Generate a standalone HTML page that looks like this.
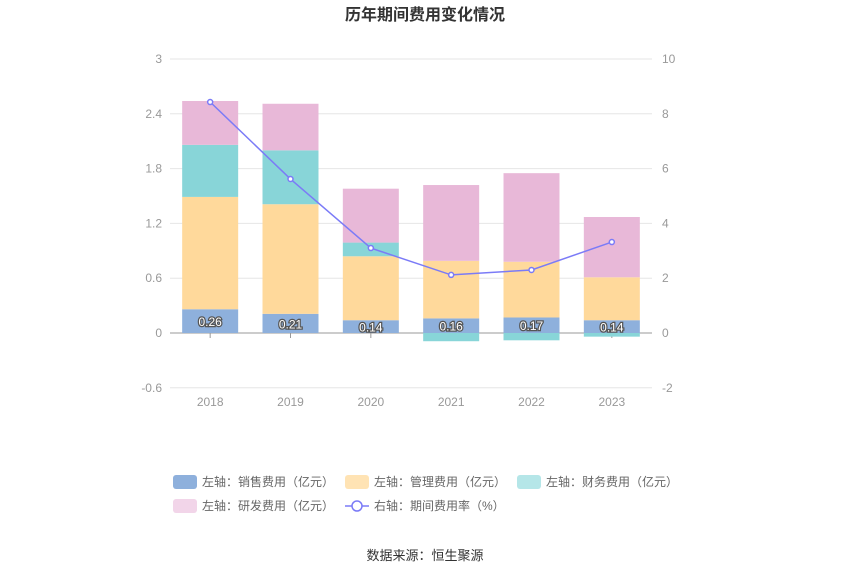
<!DOCTYPE html>
<html><head><meta charset="utf-8"><style>
body{margin:0;background:#fff;font-family:"Liberation Sans","Noto Sans CJK SC",sans-serif;}
svg text{font-family:"Liberation Sans","Noto Sans CJK SC",sans-serif;}
</style></head><body>
<svg id="c" width="850" height="574">
<text x="425" y="20" text-anchor="middle" font-size="16" font-weight="bold" fill="#333">历年期间费用变化情况</text>
<g id="grid"></g><g id="bars"></g><g id="line"></g><g id="legend"></g>
<text x="425" y="560" text-anchor="middle" font-size="13" fill="#333">数据来源：恒生聚源</text>
</svg>
<script>
const categories=["2018","2019","2020","2021","2022","2023"];
const sales=[0.26,0.21,0.14,0.16,0.17,0.14];
const mgmt=[1.23,1.20,0.70,0.63,0.61,0.47];
const finance=[0.57,0.59,0.15,-0.09,-0.08,-0.04];
const rnd=[0.48,0.51,0.59,0.83,0.97,0.66];
const rate=[8.43,5.62,3.10,2.12,2.30,3.32];
const leftTicks=[-0.6,0,0.6,1.2,1.8,2.4,3];
const rightTicks=[-2,0,2,4,6,8,10];
const NS="http://www.w3.org/2000/svg";
const x0=170,x1=652,yTop=59,yBot=388;
const yL=v=>333-(v)*(274/3);
const yR=v=>333-v*27.4;
const band=(x1-x0)/categories.length;
const xC=i=>x0+band*(i+0.5);
function mk(t,a,p){const e=document.createElementNS(NS,t);for(const k in a)e.setAttribute(k,a[k]);p.appendChild(e);return e;}
const grid=document.getElementById('grid');
leftTicks.forEach((v,i)=>{const y=yL(v);
 const l=mk('line',{x1:x0,x2:x1,y1:y,y2:y,stroke:v===0?'#999':'#e6e6e6'},grid);
 
 const t=mk('text',{x:x0-8,y:y+4,'text-anchor':'end','font-size':12,fill:'#999'},grid);t.textContent=v;
 
 const r=mk('text',{x:x1+10,y:yR(rightTicks[i])+4,'font-size':12,fill:'#999'},grid);r.textContent=rightTicks[i];
 
});
categories.forEach((c,i)=>{const t=mk('text',{x:xC(i),y:406,'text-anchor':'middle','font-size':12,fill:'#999'},grid);t.textContent=c;
 
 const k=mk('line',{x1:xC(i),x2:xC(i),y1:333,y2:338,stroke:'#999'},grid);
 });
const bars=document.getElementById('bars');const bw=56;
const series=[[sales,'#8eb0dc','bar-sales'],[mgmt,'#ffd99b','bar-management'],[finance,'#88d5d8','bar-finance'],[rnd,'#e8b8d8','bar-rnd']];
categories.forEach((c,i)=>{let pos=0,neg=0;
 series.forEach(([arr,col,nm])=>{const v=arr[i];let a,b;
  if(v>=0){a=pos;b=pos+v;pos=b;}else{a=neg;b=neg+v;neg=b;}
  const r=mk('rect',{x:xC(i)-bw/2,y:Math.min(yL(a),yL(b)),width:bw,height:Math.abs(yL(a)-yL(b)),fill:col},bars);
  });
 const t=mk('text',{x:xC(i),y:yL(sales[i]/2)+5,'text-anchor':'middle','font-size':12,fill:'#fff',stroke:'#555','stroke-width':2.5,'paint-order':'stroke'},bars);
 t.textContent=sales[i].toFixed(2);
});
const lg=document.getElementById('line');
const pl=mk('polyline',{points:rate.map((v,i)=>xC(i)+','+yR(v)).join(' '),fill:'none',stroke:'#7b7bf7','stroke-width':1.5},lg);

rate.forEach((v,i)=>{const p=mk('circle',{cx:xC(i),cy:yR(v),r:2.5,fill:'#fff',stroke:'#7b7bf7','stroke-width':1.5},lg);
 });
const leg=document.getElementById('legend');
const items=[['左轴：销售费用（亿元）','#8eb0dc',173,482],['左轴：管理费用（亿元）','#ffe3b4',345,482],['左轴：财务费用（亿元）','#b5e6e8',517,482],['左轴：研发费用（亿元）','#f2d5e9',173,506],['右轴：期间费用率（%）','line',345,506]];
items.forEach(([txt,col,x,y])=>{const g=mk('g',{},leg);
 if(col==='line'){mk('line',{x1:x,x2:x+24,y1:y,y2:y,stroke:'#7b7bf7','stroke-width':1.5},g);mk('circle',{cx:x+12,cy:y,r:5,fill:'#fff',stroke:'#7b7bf7','stroke-width':1.5},g);}
 else mk('rect',{x:x,y:y-7,width:24,height:14,rx:3,fill:col},g);
 const t=mk('text',{x:x+29,y:y+4,'font-size':12,fill:'#666'},g);t.textContent=txt;});
</script>
</body></html>
